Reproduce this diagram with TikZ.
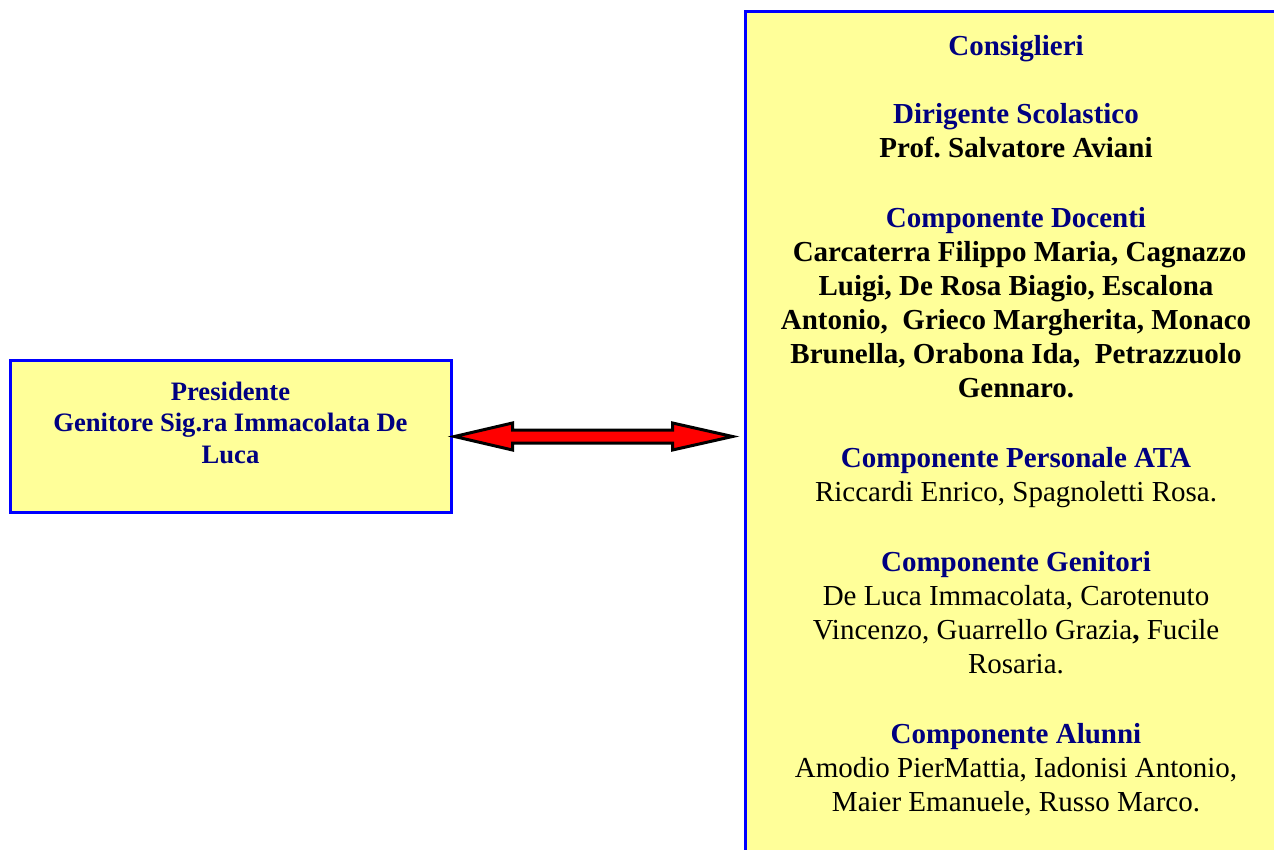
\documentclass[tikz,border=0pt]{standalone}
\usepackage{fontspec}
\setmainfont{Liberation Serif}
\usetikzlibrary{calc}
\frenchspacing
\definecolor{boxfill}{HTML}{FFFF99}
\definecolor{boxline}{HTML}{0000FF}
\definecolor{titlec}{HTML}{000080}
\definecolor{arrowred}{HTML}{FF0000}
\begin{document}
\begin{tikzpicture}[x=1pt,y=-1pt,
  box/.style={draw=boxline, line width=3pt, fill=boxfill, inner sep=0pt},
  boxtext/.style={align=center, anchor=north, inner sep=0pt, font=\bfseries\fontsize{29}{34}\selectfont},
  arrowshape/.style={draw=black, fill=arrowred, line width=3pt, line join=miter}]
\useasboundingbox (0,0) rectangle (1274,850);
\fill[white] (0,0) rectangle (1274,850);
% left box
\node[box, minimum width=441pt, minimum height=152pt] (pres) at (230.5,436) {};
\node[boxtext, text=titlec, font=\bfseries\fontsize{26.6}{31.3}\selectfont] (prestext) at (230.5,382)
  {Presidente\\Genitore Sig.ra Immacolata De\\Luca};
% right box
\node[box, minimum width=545pt, minimum height=858pt] (cons) at (1017.5,441) {};
\node[boxtext] (constext) at (1016,35.3) {%
\textcolor{titlec}{Consiglieri}\\[34pt]
\textcolor{titlec}{Dirigente Scolastico}\\
Prof. Salvatore Aviani\\[36pt]
\textcolor{titlec}{Componente Docenti}\\
\ Carcaterra Filippo Maria, Cagnazzo\\
Luigi, De Rosa Biagio, Escalona\\
Antonio,\ \ Grieco Margherita, Monaco\\
Brunella, Orabona Ida,\ \ Petrazzuolo\\
Gennaro.\\[36pt]
\textcolor{titlec}{Componente Personale ATA}\\
{\mdseries Riccardi Enrico, Spagnoletti Rosa.}\\[36pt]
\textcolor{titlec}{Componente Genitori}\\
{\mdseries De Luca Immacolata, Carotenuto}\\
{\mdseries Vincenzo, Guarrello Grazia}, {\mdseries Fucile}\\
{\mdseries Rosaria.}\\[36pt]
\textcolor{titlec}{Componente Alunni}\\
{\mdseries Amodio PierMattia, Iadonisi Antonio,}\\
{\mdseries Maier Emanuele, Russo Marco.}};
% double arrow
\coordinate (tipL) at ($(pres.east)+(2,0.5)$);
\coordinate (tipR) at ($(cons.west |- tipL)+(-11,0)$);
\draw[arrowshape] (tipL) -- ++(58,-13.5) -- ++(0,7) -- ($(tipR)+(-60,-6.5)$) -- ++(0,-7) -- (tipR)
  -- ++(-60,13.5) -- ++(0,-7) -- ($(tipL)+(58,6.5)$) -- ++(0,7) -- cycle;
\end{tikzpicture}
\end{document}
